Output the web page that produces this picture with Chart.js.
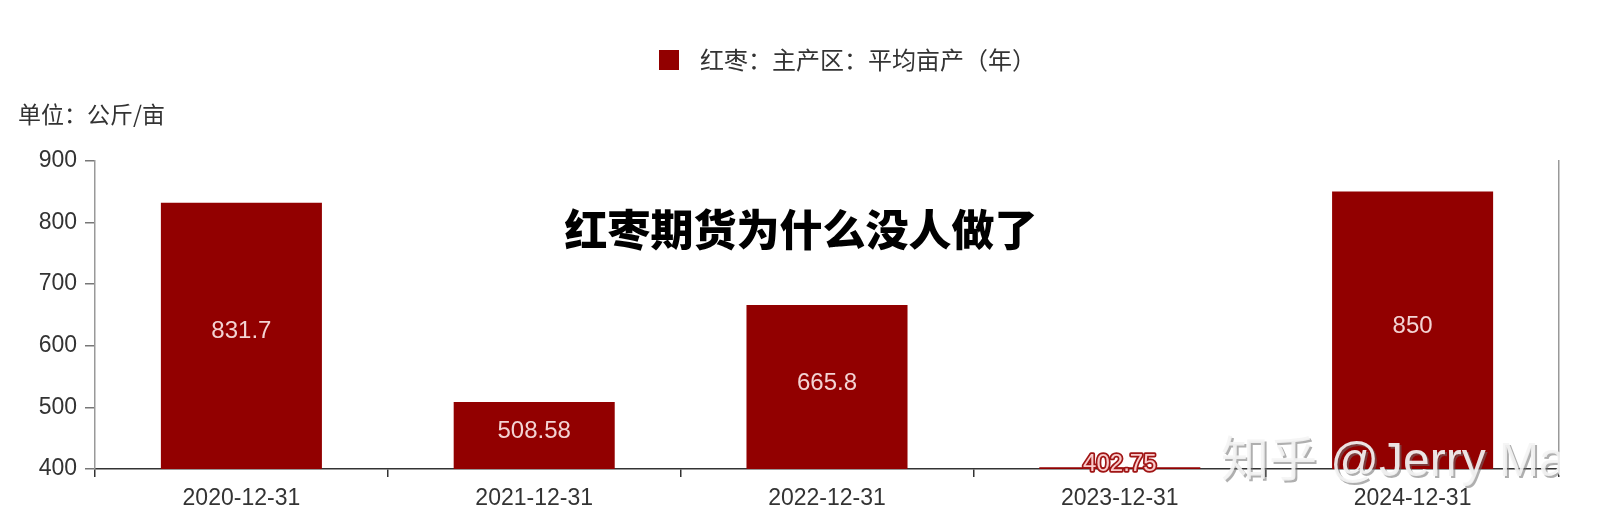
<!DOCTYPE html>
<html>
<head>
<meta charset="utf-8">
<script src="https://cdn.jsdelivr.net/npm/chart.js@4/dist/chart.umd.min.js"></script>
<style>
    html, body { margin: 0; padding: 0; background: #fff; }
    #wrap { width: 1602px; height: 532px; }
</style>
</head>
<body>
<div id="wrap"><canvas id="yieldChart"></canvas></div>
<script>
// Chart data
const categories = ['2020-12-31', '2021-12-31', '2022-12-31', '2023-12-31', '2024-12-31'];
const yieldValues = [831.7, 508.58, 665.8, 402.75, 850];
const yTicks = [400, 500, 600, 700, 800, 900];
const seriesName = '红枣：主产区：平均亩产（年）';
const unitText = '单位：公斤/亩';
const overlayTitle = '红枣期货为什么没人做了';
const watermark = '知乎 @Jerry Ma';

const barColor = '#920000';
const latin = "'Liberation Sans', 'Noto Sans CJK SC', sans-serif";
const cjk = "'Noto Sans CJK SC', 'Liberation Sans', sans-serif";

// Legend marker: a plain square
const legendSquare = document.createElement('canvas');
legendSquare.width = 20;
legendSquare.height = 20;
(() => {
    const c = legendSquare.getContext('2d');
    c.fillStyle = barColor;
    c.fillRect(0, 0, 20, 20);
})();

// Legend sits a bit right of the plot centre in the original
const legendShift = {
    id: 'legendShift',
    afterLayout(chart) {
        if (chart.legend) {
            chart.legend.left += 16;
            chart.legend.right += 16;
        }
    },
};

// Value labels inside the bars
const valueLabels = {
    id: 'valueLabels',
    afterDatasetsDraw(chart) {
        const ctx = chart.ctx;
        const meta = chart.getDatasetMeta(0);
        const bottom = chart.chartArea.bottom;
        ctx.save();
        ctx.font = '24px ' + latin;
        ctx.textAlign = 'center';
        ctx.textBaseline = 'middle';
        meta.data.forEach((bar, i) => {
            const { x, y, base } = bar.getProps(['x', 'y', 'base'], true);
            const b = Math.min(base, bottom);
            const cy = (y + b) / 2 - 4;
            const text = String(yieldValues[i]);
            if (Math.abs(b - y) < 30) {
                ctx.lineWidth = 3.5;
                ctx.lineJoin = 'round';
                ctx.strokeStyle = '#a01515';
                ctx.strokeText(text, x, cy);
                ctx.fillStyle = '#f9cccc';
                ctx.fillText(text, x, cy);
            } else {
                ctx.fillStyle = '#f3d3d3';
                ctx.fillText(text, x, cy);
            }
        });
        ctx.restore();
    },
};

// Overlay heading and watermark
const overlay = {
    id: 'overlay',
    afterDraw(chart) {
        const ctx = chart.ctx;
        ctx.save();
        ctx.font = '900 43px ' + cjk;
        ctx.textAlign = 'center';
        ctx.textBaseline = 'middle';
        ctx.lineJoin = 'round';
        ctx.lineWidth = 4;
        ctx.strokeStyle = '#fff';
        ctx.strokeText(overlayTitle, 801, 230);
        ctx.fillStyle = '#000';
        ctx.fillText(overlayTitle, 801, 230);

        ctx.beginPath();
        ctx.rect(0, 0, chart.chartArea.right + 1, chart.height);
        ctx.clip();
        ctx.font = '48px ' + latin;
        ctx.textAlign = 'left';
        ctx.textBaseline = 'alphabetic';
        ctx.fillStyle = 'rgba(110, 110, 110, 0.55)';
        ctx.fillText(watermark, 1223, 478);
        ctx.fillStyle = 'rgba(244, 244, 244, 0.92)';
        ctx.fillText(watermark, 1221, 476);
        ctx.restore();
    },
};

const chart = new Chart(document.getElementById('yieldChart'), {
    type: 'bar',
    data: {
        labels: categories,
        datasets: [
            {
                label: seriesName,
                data: yieldValues,
                backgroundColor: barColor,
                borderWidth: 0,
                barPercentage: 0.55,
                categoryPercentage: 1,
                pointStyle: legendSquare,
            },
        ],
    },
    options: {
        responsive: true,
        maintainAspectRatio: false,
        animation: false,
        layout: {
            padding: { top: 38, left: 18, right: 43, bottom: 0 },
        },
        plugins: {
            legend: {
                display: true,
                position: 'top',
                fullSize: false,
                weight: 1000,
                labels: {
                    usePointStyle: true,
                    pointStyleWidth: 38,
                    boxHeight: 20,
                    padding: 10,
                    color: '#333',
                    font: { size: 24, family: cjk },
                },
            },
            title: {
                display: true,
                text: unitText,
                align: 'start',
                position: 'top',
                weight: 500,
                color: '#333',
                font: { size: 23, weight: 'normal', family: cjk },
                padding: { top: 18, bottom: 33 },
            },
            tooltip: { enabled: false },
        },
        scales: {
            x: {
                grid: {
                    display: true,
                    drawOnChartArea: false,
                    tickLength: 8,
                    color: '#333',
                    lineWidth: 1.5,
                },
                border: { color: '#333', width: 1.5 },
                ticks: {
                    color: '#333',
                    font: { size: 23, family: latin },
                    padding: 8,
                    maxRotation: 0,
                },
                afterFit: (scale) => { scale.height = 63; },
            },
            y: {
                min: 400,
                max: 900,
                afterBuildTicks: (scale) => { scale.ticks = yTicks.map((v) => ({ value: v })); },
                grid: {
                    display: true,
                    drawOnChartArea: false,
                    tickLength: 10,
                    color: '#777',
                    lineWidth: 1.5,
                },
                border: { color: '#999', width: 1.5 },
                ticks: {
                    color: '#333',
                    font: { size: 23, family: latin },
                    padding: 8,
                },
                afterFit: (scale) => { scale.width = 77; },
            },
            y2: {
                position: 'right',
                min: 400,
                max: 900,
                grid: { display: true, drawOnChartArea: false, drawTicks: false },
                border: { color: '#999', width: 1.5 },
                ticks: { display: false },
                afterFit: (scale) => { scale.width = 0; },
            },
        },
    },
    plugins: [legendShift, valueLabels, overlay],
});
</script>
</body>
</html>
